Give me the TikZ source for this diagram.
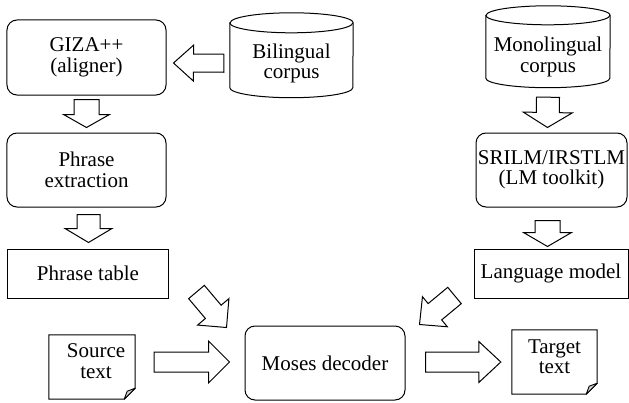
\documentclass[tikz,border=0pt]{standalone}
\usepackage{fontspec}
\setmainfont{Liberation Serif}
\usetikzlibrary{calc}
\tikzset{
  txt/.style={font={\fontsize{21bp}{20.5bp}\selectfont}, align=center, inner sep=0pt},
  rbox/.style={txt, draw, line width=1bp, rounded corners=10bp},
  sbox/.style={txt, draw, line width=1bp},
  ghost/.style={inner sep=0pt, draw=none},
  outline/.style={draw, line width=1bp, line join=miter},
  barr/.style={draw, line width=1bp, line join=miter, fill=white},
  flap/.style={draw, line width=0.9bp, fill=gray!35, line join=round}
}
\newcommand\blockarr[5]{% tail, tip, half shaft, half head, head length
  \coordinate (hb) at ($(#2)!#5!(#1)$);
  \draw[barr] ($(#1)!#3!90:(#2)$) -- ($(hb)!#3!90:(#2)$) -- ($(hb)!#4!90:(#2)$)
    -- (#2) -- ($(hb)!#4!-90:(#2)$) -- ($(hb)!#3!-90:(#2)$) -- ($(#1)!#3!-90:(#2)$) -- cycle;
}
\begin{document}
\begin{tikzpicture}[x=1bp,y=1bp]
\useasboundingbox (0,0) rectangle (629,402);

% left column
\node[rbox, minimum width=159bp, minimum height=75bp] (giza) at (86.5,344.5) {GIZA++\\(aligner)};
\node[rbox, minimum width=159bp, minimum height=74bp] (phrext) at (86.5,232) {Phrase\\extraction};
\node[sbox, minimum width=160bp, minimum height=49bp] (ptable) at (88,128.5) {Phrase table};

% bilingual corpus (cylinder)
\node[ghost, minimum width=123bp, minimum height=64.5bp] (bil) at (291.5,346.75) {};
\draw[outline] (bil.north west) -- (bil.south west)
  arc[start angle=180, end angle=360, x radius=61.5, y radius=10]
  -- (bil.north east)
  arc[start angle=0, end angle=180, x radius=61.5, y radius=10] -- cycle;
\draw[outline] (bil.north west) arc[start angle=180, end angle=360, x radius=61.5, y radius=10];
\node[txt] (biltxt) at ($(bil.center)+(0,-8)$) {Bilingual\\corpus};

% monolingual corpus (cylinder)
\node[ghost, minimum width=124bp, minimum height=62.5bp] (mono) at (548,355.25) {};
\draw[outline] (mono.north west) -- (mono.south west)
  arc[start angle=180, end angle=360, x radius=62, y radius=9.5]
  -- (mono.north east)
  arc[start angle=0, end angle=180, x radius=62, y radius=9.5] -- cycle;
\draw[outline] (mono.north west) arc[start angle=180, end angle=360, x radius=62, y radius=9.5];
\node[txt] (monotxt) at ($(mono.center)+(0,-10)$) {Monolingual\\corpus};

% right column
\node[rbox, minimum width=151bp, minimum height=74bp] (srilm) at (551.5,232) {SRILM/IRSTLM\\(LM toolkit)};
\node[sbox, minimum width=154bp, minimum height=49bp] (lm) at (551,128.5) {Language model};

% decoder
\node[rbox, minimum width=160bp, minimum height=74bp] (moses) at (325,39) {Moses decoder};

% source document
\node[ghost, minimum width=86bp, minimum height=64bp] (src) at (92,35) {};
\draw[outline] (src.north west) -- (src.north east) -- ($(src.south east)+(0,11)$)
  -- ($(src.south east)+(-11,0)$) -- (src.south west) -- cycle;
\draw[flap] ($(src.south east)+(0,11)$) -- ($(src.south east)+(-8,8)$) -- ($(src.south east)+(-11,0)$) -- cycle;
\node[txt] (srctxt) at ($(src.center)+(4,6)$) {Source\\text};

% target document
\node[ghost, minimum width=85bp, minimum height=64bp] (tgt) at (554.5,40) {};
\draw[outline] (tgt.north west) -- (tgt.north east) -- ($(tgt.south east)+(0,11)$)
  -- ($(tgt.south east)+(-11,0)$) -- (tgt.south west) -- cycle;
\draw[flap] ($(tgt.south east)+(0,11)$) -- ($(tgt.south east)+(-8,8)$) -- ($(tgt.south east)+(-11,0)$) -- cycle;
\node[txt] (tgttxt) at ($(tgt.center)+(0,5.5)$) {Target\\text};

% block arrows
\blockarr{$(bil.west)+(-6,-8)$}{$(giza.east)+(7,-5.5)$}{9bp}{18bp}{20bp}
\blockarr{$(giza.south)+(0,-4)$}{$(phrext.north)+(0,5)$}{12.5bp}{23bp}{13bp}
\blockarr{$(ptable.north)+(0.5,34)$}{$(ptable.north)+(0.5,6)$}{11.5bp}{23.5bp}{14bp}
\blockarr{$(mono.south)+(0,-19)$}{$(srilm.north)+(-4,5)$}{11.5bp}{24.5bp}{15bp}
\blockarr{$(srilm.south)+(-4,-13)$}{$(lm.north)+(-3.5,2)$}{12.5bp}{24bp}{14bp}
\blockarr{$(ptable.south east)+(28,6.5)$}{$(moses.north west)+(-18,-2)$}{10.3bp}{20.5bp}{20.5bp}
\blockarr{$(lm.south west)+(-19,3)$}{$(moses.north east)+(14,1)$}{10.6bp}{19.5bp}{20bp}
\blockarr{$(src.east)+(19,5)$}{$(moses.west)+(-15,1)$}{10bp}{21bp}{21bp}
\blockarr{$(moses.east)+(20,1)$}{$(tgt.west)+(-11,0)$}{10bp}{20.5bp}{22bp}
\end{tikzpicture}
\end{document}
